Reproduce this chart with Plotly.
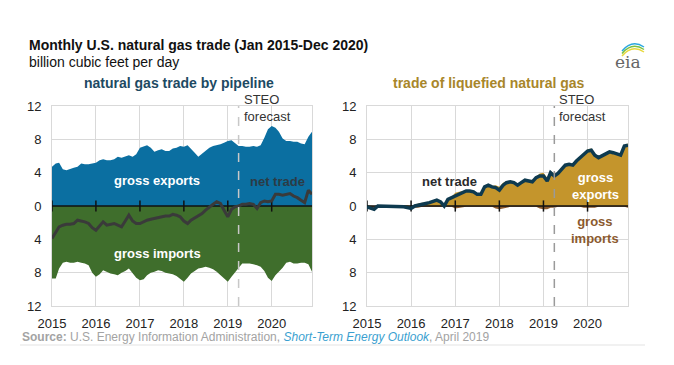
import pandas as pd
import plotly.graph_objects as go

# ---------------- data (billion cubic feet per day) ----------------
months = pd.date_range("2015-01-01", periods=72, freq="MS")
year_ticks = ["2015-01-01", "2016-01-01", "2017-01-01", "2018-01-01", "2019-01-01", "2020-01-01"]
year_labels = ["2015", "2016", "2017", "2018", "2019", "2020"]
y_ticks = [-12, -8, -4, 0, 4, 8, 12]
y_labels = ["12", "8", "4", "0", "4", "8", "12"]
forecast_start = "2019-04-01"

pipe_exports = [4.7, 5.1, 5.2, 4.4, 4.3, 4.5, 4.6, 4.7, 5.1, 5.0, 5.0, 5.1,
                5.2, 5.5, 5.6, 5.5, 5.5, 5.6, 5.9, 5.8, 6.0, 6.1, 5.9, 6.2,
                7.0, 7.2, 7.3, 7.0, 6.5, 6.7, 6.8, 6.6, 6.6, 6.9, 7.0, 7.2,
                7.1, 7.3, 6.9, 6.4, 5.9, 6.3, 6.7, 7.0, 7.2, 7.3, 7.4, 7.6,
                7.8, 7.9, 7.6, 7.2, 7.2, 7.1, 7.1, 7.2, 7.1, 7.3, 8.2, 9.2,
                9.6, 9.4, 8.9, 8.1, 7.8, 7.8, 7.7, 7.7, 7.5, 7.4, 8.3, 8.9]
pipe_imports = [-8.7, -8.7, -7.5, -6.8, -6.7, -6.8, -6.8, -6.7, -6.8, -6.9, -7.1, -8.0,
                -8.5, -8.2, -7.7, -7.9, -8.1, -8.2, -8.3, -8.0, -7.8, -7.5, -8.0, -8.6,
                -8.9, -8.8, -8.3, -8.0, -7.9, -7.7, -7.8, -8.0, -8.1, -8.2, -8.4, -8.7,
                -9.1, -8.6, -8.1, -7.8, -7.5, -7.4, -7.3, -7.4, -7.6, -7.9, -8.3, -8.8,
                -9.1, -8.5, -8.0, -7.4, -6.9, -6.9, -6.9, -7.0, -7.1, -7.3, -7.8, -8.6,
                -9.0, -8.3, -7.9, -7.4, -6.8, -6.7, -6.9, -6.9, -6.8, -6.8, -7.0, -7.9]
pipe_net = [-3.9, -3.2, -2.5, -2.3, -2.2, -2.2, -2.1, -1.7, -1.8, -1.9, -2.1, -2.6,
            -2.9, -2.4, -1.9, -2.3, -2.2, -2.1, -2.3, -2.5, -1.8, -1.1, -1.8, -2.1,
            -2.1, -1.9, -1.7, -1.6, -1.5, -1.4, -1.3, -1.2, -1.2, -1.0, -1.1, -1.3,
            -1.8, -2.1, -1.7, -1.4, -1.1, -0.9, -0.5, -0.1, 0.2, 0.5, 0.3, -0.5,
            -1.3, -0.4, -0.1, 0.0, 0.2, 0.2, 0.3, 0.2, -0.3, 0.4, 0.6, 0.5,
            0.6, 1.4, 1.4, 1.3, 1.4, 1.5, 1.2, 1.0, 0.7, 0.4, 1.9, 1.4]

lng_exports = [0.1, 0.0, 0.0, 0.1, 0.1, 0.1, 0.1, 0.1, 0.1, 0.1, 0.1, 0.1,
               0.0, 0.2, 0.3, 0.4, 0.4, 0.5, 0.6, 0.8, 0.6, 0.1, 0.9, 1.1,
               1.6, 1.7, 1.8, 1.9, 1.9, 1.8, 1.5, 1.5, 2.4, 2.6, 2.4, 2.5,
               2.3, 2.8, 3.0, 3.0, 2.9, 2.6, 2.9, 3.2, 3.1, 3.0, 3.5, 3.9,
               4.0, 3.4, 4.2, 3.8, 4.0, 4.5, 5.0, 5.1, 5.0, 5.5, 5.9, 6.3,
               6.8, 6.9, 6.3, 5.9, 6.1, 6.4, 6.6, 6.5, 6.3, 6.2, 7.3, 7.5]
lng_imports = [-0.2, -0.3, -0.4, -0.1, -0.1, -0.2, -0.2, -0.2, -0.1, -0.2, -0.2, -0.3,
               -0.3, -0.2, -0.2, -0.1, -0.1, -0.1, -0.1, -0.1, -0.1, -0.1, -0.1, -0.1,
               -0.3, -0.2, -0.2, -0.1, -0.1, -0.1, -0.1, -0.1, -0.1, -0.1, -0.1, -0.3,
               -0.4, -0.3, -0.2, -0.1, -0.1, -0.1, -0.1, -0.1, -0.1, -0.1, -0.1, -0.3,
               -0.4, -0.4, -0.2, -0.2, -0.1, -0.1, -0.1, -0.1, -0.1, -0.1, -0.1, -0.2,
               -0.2, -0.2, -0.2, -0.1, -0.1, -0.1, -0.1, -0.1, -0.1, -0.1, -0.1, -0.2]
lng_net = [-0.1, -0.3, -0.4, 0.0, 0.0, -0.1, -0.1, -0.1, 0.0, -0.1, -0.1, -0.2,
           -0.3, 0.0, 0.1, 0.3, 0.3, 0.4, 0.5, 0.7, 0.5, 0.0, 0.8, 1.0,
           1.3, 1.5, 1.6, 1.8, 1.8, 1.7, 1.4, 1.4, 2.3, 2.5, 2.3, 2.2,
           1.9, 2.5, 2.8, 2.9, 2.8, 2.5, 2.8, 3.1, 3.0, 2.9, 3.4, 3.6,
           3.6, 3.0, 4.0, 3.6, 3.9, 4.4, 4.9, 5.0, 4.9, 5.4, 5.8, 6.1,
           6.6, 6.7, 6.1, 5.8, 6.0, 6.3, 6.5, 6.4, 6.2, 6.1, 7.2, 7.3]

# ---------------- styling ----------------
W, H = 674, 365
FONT = "Arial, Liberation Sans, sans-serif"
BLUE = "#0b6fa1"
GREEN = "#3f6e2c"
GOLD = "#c4952c"
BROWN = "#8b5a2e"
NAVY = "#0e3a4f"
GRID = "#d9d9d9"


def px(x):
    return x / W


def py(y):
    return 1 - y / H


fig = go.Figure()


def add_panel(xa, ya, exp, imp, net, exp_col, imp_col, net_col, net_w):
    fig.add_trace(go.Scatter(x=months, y=exp, xaxis=xa, yaxis=ya, mode="lines",
                             line=dict(width=0, color=exp_col), fill="tozeroy",
                             fillcolor=exp_col, hoverinfo="skip"))
    fig.add_trace(go.Scatter(x=months, y=imp, xaxis=xa, yaxis=ya, mode="lines",
                             line=dict(width=0, color=imp_col), fill="tozeroy",
                             fillcolor=imp_col, hoverinfo="skip"))
    # zero axis line with year ticks
    fig.add_trace(go.Scatter(x=[months[0], months[-1]], y=[0, 0], xaxis=xa, yaxis=ya,
                             mode="lines", line=dict(color="#111111", width=1.5),
                             hoverinfo="skip"))
    fig.add_trace(go.Scatter(x=year_ticks, y=[0] * len(year_ticks), xaxis=xa, yaxis=ya,
                             mode="markers",
                             marker=dict(symbol="line-ns", size=8,
                                         line=dict(color="#111111", width=1.5)),
                             hoverinfo="skip"))
    fig.add_trace(go.Scatter(x=months, y=net, xaxis=xa, yaxis=ya, mode="lines",
                             line=dict(color=net_col, width=net_w),
                             hoverinfo="skip"))


add_panel("x", "y", pipe_exports, pipe_imports, pipe_net, BLUE, GREEN, "#3a3a3a", 3)
add_panel("x2", "y2", lng_exports, lng_imports, lng_net, GOLD, BROWN, NAVY, 3.5)

xcommon = dict(type="date", range=[months[0], months[-1]], tickvals=year_ticks,
               ticktext=year_labels, showgrid=True, gridcolor=GRID, gridwidth=1,
               showline=True, linecolor=GRID, linewidth=1, mirror=True,
               ticks="", zeroline=False, tickfont=dict(family=FONT, size=13, color="#222222"),
               ticklabelstandoff=5, automargin=False, fixedrange=True)
ycommon = dict(range=[-12, 12], tickvals=y_ticks, ticktext=y_labels, showgrid=True,
               gridcolor=GRID, gridwidth=1, showline=True, linecolor=GRID, linewidth=1,
               mirror=True, ticks="", zeroline=False,
               tickfont=dict(family=FONT, size=13, color="#222222"),
               ticklabelstandoff=7, automargin=False, fixedrange=True)

ydom = [py(306), py(106)]
fig.update_layout(
    width=W, height=H, margin=dict(l=0, r=0, t=0, b=0),
    paper_bgcolor="white", plot_bgcolor="white", showlegend=False,
    font=dict(family=FONT),
    xaxis=dict(domain=[px(52), px(312)], anchor="y", **xcommon),
    yaxis=dict(domain=ydom, anchor="x", **ycommon),
    xaxis2=dict(domain=[px(367), px(628)], anchor="y2", **xcommon),
    yaxis2=dict(domain=ydom, anchor="x2", **ycommon),
)

# forecast dashed lines
fig.add_shape(type="line", xref="x", yref="y", x0=forecast_start, x1=forecast_start,
              y0=-12, y1=12, line=dict(color="#c8c8c8", width=1.5, dash="dash"), layer="above")
fig.add_shape(type="line", xref="x2", yref="y2", x0=forecast_start, x1=forecast_start,
              y0=-12, y1=12, line=dict(color="#9a9a9a", width=1.5, dash="dash"), layer="above")

ann = []


def text(x, y, t, size=13, color="#222222", xanchor="left", bold=False, xref="paper",
         yanchor="middle", align="left"):
    if bold:
        t = "<b>" + t + "</b>"
    ann.append(dict(x=x, y=y, xref=xref, yref="paper", text=t, showarrow=False,
                    xanchor=xanchor, yanchor=yanchor, align=align,
                    font=dict(family=FONT, size=size, color=color)))


# titles
text(px(27), py(45), "Monthly U.S. natural gas trade (Jan 2015-Dec 2020)", size=14,
     color="#111111", bold=True)
text(px(27), py(62), "billion cubic feet per day", size=14, color="#111111")
text(px(179), py(83), "natural gas trade by pipeline", size=14, color="#1d4a63",
     bold=True, xanchor="center")
text(px(489), py(83), "trade of liquefied natural gas", size=14, color="#a8862a",
     bold=True, xanchor="center")

# STEO forecast labels
for xs in (242, 557):
    text(px(xs), py(108), "STEO<br>forecast", size=13, color="#333333",
         yanchor="middle", align="left")

# series labels (left)
text(px(157), py(180), "gross exports", size=13, color="white", bold=True, xanchor="center")
text(px(277), py(181), "net trade", size=13, color="#2b3b45", bold=True, xanchor="center")
text(px(157), py(253), "gross imports", size=13, color="white", bold=True, xanchor="center")
# series labels (right)
text(px(449), py(182), "net trade", size=13, color="#2a2a2a", bold=True, xanchor="center")
text(px(595), py(186), "gross<br>exports", size=13, color="white", bold=True,
     xanchor="center", align="center")
text(px(595), py(230), "gross<br>imports", size=13, color=BROWN, bold=True,
     xanchor="center", align="center")

# source
text(px(20), py(337),
     "<b>Source:</b> U.S. Energy Information Administration, "
     "<i><span style='color:#3a9fd0'>Short-Term Energy Outlook</span></i>, April 2019",
     size=12, color="#a3a3a3")

# eia logo text
ann.append(dict(x=px(628), y=py(62), xref="paper", yref="paper", text="eia",
                showarrow=False, xanchor="center", yanchor="middle",
                font=dict(family="DejaVu Serif, Liberation Serif, serif", size=17,
                          color="#666666")))
fig.update_layout(annotations=ann)

# source underline
fig.add_shape(type="line", xref="paper", yref="paper", x0=px(20), x1=px(645),
              y0=py(345), y1=py(345), line=dict(color="#e3e3e3", width=1))

# eia logo swooshes
for col, off in (("#e8d83c", 0), ("#7cc142", 2.5), ("#2aa7df", 5)):
    fig.add_shape(type="path", xref="paper", yref="paper",
                  xsizemode="pixel", ysizemode="pixel", xanchor=px(622), yanchor=py(56),
                  path=f"M 0,{off} Q 10,{12 + off} 22,{4 + off}",
                  line=dict(color=col, width=1.5))

fig.write_html("out.html", config={"displayModeBar": False},
               post_script="document.body.style.margin='0';document.body.style.overflow='hidden';")
